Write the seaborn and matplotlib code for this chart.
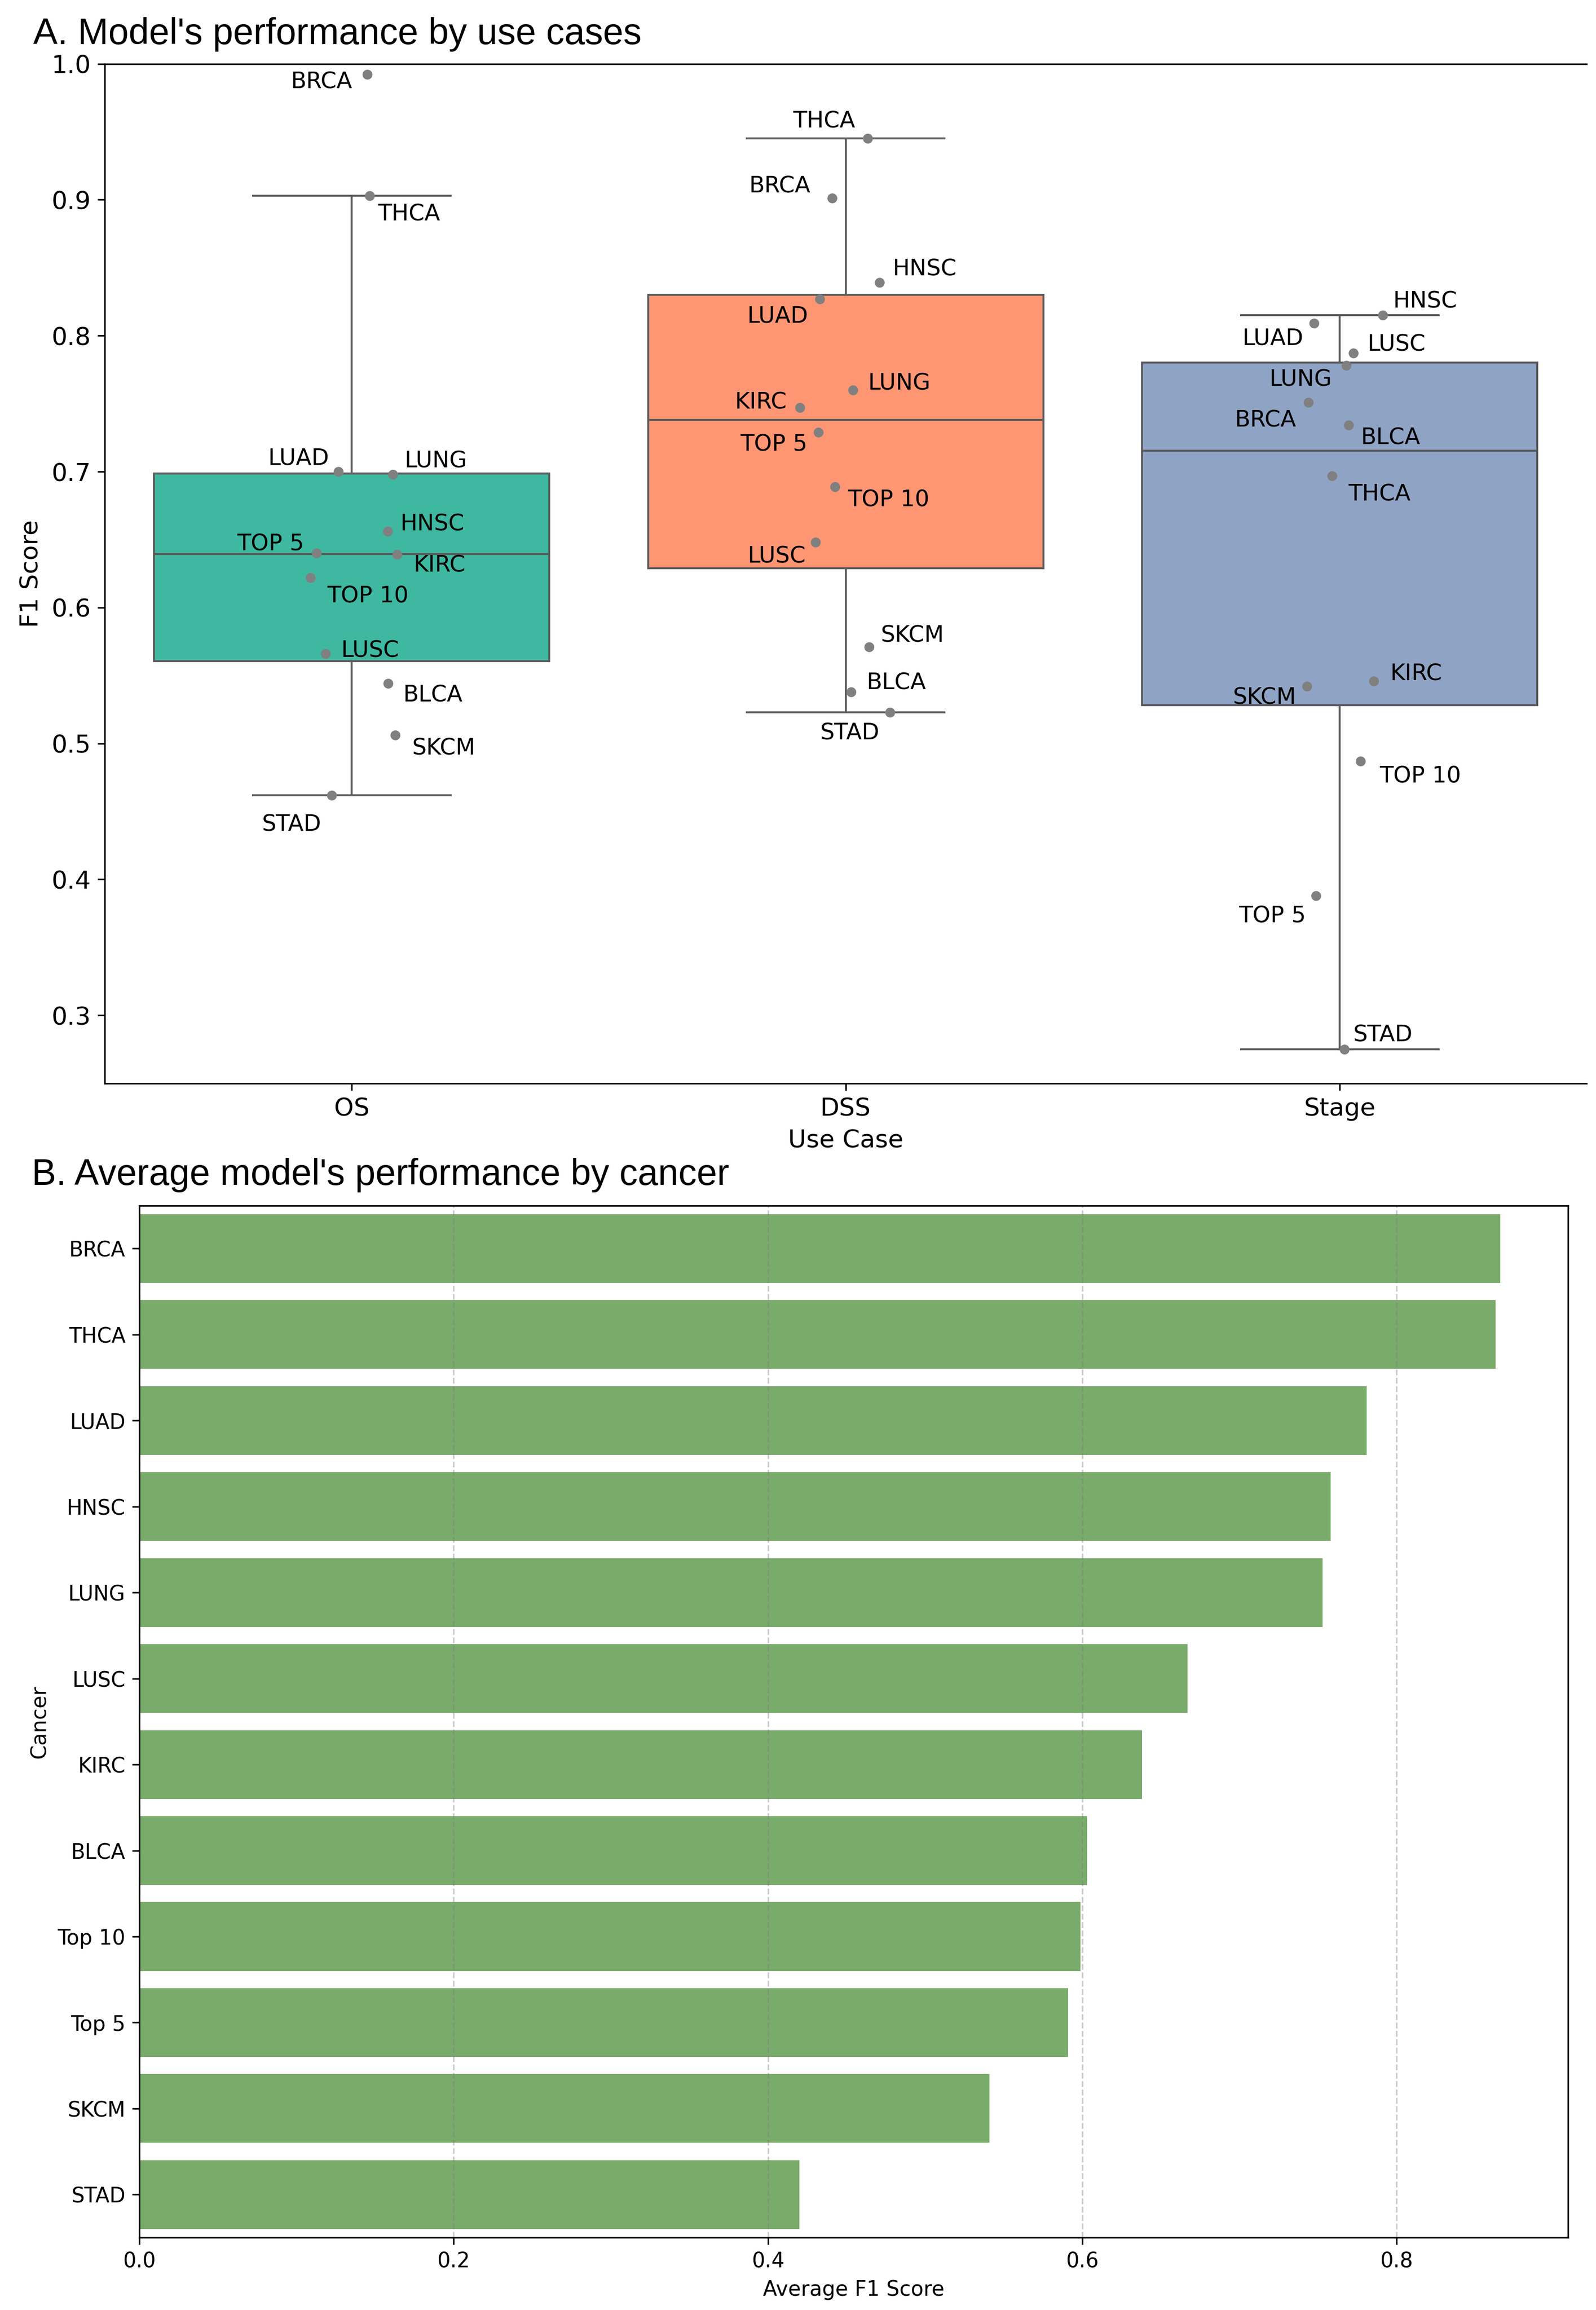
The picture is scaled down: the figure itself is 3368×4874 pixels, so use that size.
"""
Model performance figure: F1 by use case (box + strip) and average F1 by cancer (bars)
"""
import matplotlib
matplotlib.use("Agg")
import matplotlib.pyplot as plt
import seaborn as sns
import numpy as np
import pandas as pd

# ---- data ----
use_cases = ["OS", "DSS", "Stage"]
cancers = ["BRCA", "THCA", "LUAD", "HNSC", "LUNG", "LUSC",
           "KIRC", "BLCA", "TOP 10", "TOP 5", "SKCM", "STAD"]
os_f1 = [0.992, 0.903, 0.700, 0.656, 0.698, 0.566,
         0.639, 0.544, 0.622, 0.640, 0.506, 0.462]
dss_f1 = [0.901, 0.945, 0.827, 0.839, 0.760, 0.648,
          0.747, 0.538, 0.689, 0.729, 0.571, 0.523]
stage_f1 = [0.751, 0.697, 0.809, 0.815, 0.778, 0.787,
            0.546, 0.734, 0.487, 0.388, 0.542, 0.275]

bar_cancers = ["BRCA", "THCA", "LUAD", "HNSC", "LUNG", "LUSC",
               "KIRC", "BLCA", "Top 10", "Top 5", "SKCM", "STAD"]
avg_f1 = [0.866, 0.863, 0.781, 0.758, 0.753, 0.667,
          0.638, 0.603, 0.599, 0.591, 0.541, 0.420]

# ---- styling ----
box_colors = ["#3EB8A0", "#FF9673", "#8FA4C5"]
bar_color = "#79AB6A"
line_color = "#5a5a5a"

# label offsets (points) relative to each dot: (dx, dy to baseline)
label_offsets = {
    "OS": {"BRCA": (-7.7, -6.8), "THCA": (4.0, -12.5), "LUAD": (-4.8, 3.7),
           "LUNG": (6.0, 3.5), "HNSC": (6.2, 0.5), "TOP 5": (-6.5, 1.5),
           "KIRC": (8.2, -8.7), "TOP 10": (8.4, -12.6), "LUSC": (7.8, -1.5),
           "BLCA": (7.5, -9.0), "SKCM": (8.8, -9.8), "STAD": (-5.2, -18.0)},
    "DSS": {"THCA": (-6.2, 5.6), "BRCA": (-10.9, 3.0), "HNSC": (6.6, 3.7),
            "LUAD": (-5.8, -11.8), "LUNG": (7.7, 0.2), "KIRC": (-6.7, -0.5),
            "TOP 5": (-5.5, -9.4), "TOP 10": (6.5, -10.0), "LUSC": (-4.9, -10.3),
            "SKCM": (6.1, 2.7), "BLCA": (7.9, 1.4), "STAD": (-5.3, -13.7)},
    "Stage": {"HNSC": (5.2, 3.9), "LUAD": (-5.6, -10.8), "LUSC": (7.0, 1.2),
              "LUNG": (-7.4, -10.2), "BRCA": (-6.2, -12.2), "BLCA": (6.0, -9.4),
              "THCA": (8.1, -12.5), "KIRC": (8.1, 0.5), "SKCM": (-5.4, -8.9),
              "TOP 10": (9.6, -10.8), "TOP 5": (-5.1, -13.4), "STAD": (4.5, 4.1)},
}

W, H, DPI = 3368, 4874, 300
AX1 = [221 / W, 1 - 2286 / H, (3348 - 221) / W, (2286 - 135) / H]
AX2 = [294 / W, 1 - 4721 / H, (3309 - 294) / W, (4721 - 2544) / H]


def whisker_spans(vals):
    """Vertical whisker segments (below and above the box) of a Tukey boxplot."""
    v = np.asarray(vals)
    q1, q3 = np.percentile(v, [25, 75])
    iqr = q3 - q1
    lo = v[v >= q1 - 1.5 * iqr].min()
    hi = v[v <= q3 + 1.5 * iqr].max()
    return [(lo, q1), (q3, hi)]


def pick_jitter_seed(n_seeds=50000):
    """Pick a jitter seed so the hand-placed labels clash the least."""
    values = np.array([os_f1, dss_f1, stage_f1])
    unit_px = AX1[2] * W / 3          # px per category
    f1_px = AX1[3] * H / 0.75         # px per F1 unit
    pt = DPI / 72
    char_px, cap_px, dot_r = 31, 36, 11
    dx = np.array([[label_offsets[uc][c][0] for c in cancers] for uc in use_cases])
    dy = np.array([[label_offsets[uc][c][1] for c in cancers] for uc in use_cases])
    w = np.array([[len(c) * char_px for c in cancers]] * 3, dtype=float)
    col = np.arange(3)[:, None]
    py = values * f1_px
    y0 = (py + dy * pt).ravel()
    y1 = y0 + cap_px
    cx = np.repeat(np.arange(3) * unit_px, len(cancers))
    spans = np.array([whisker_spans(v) for v in values]) * f1_px  # (3, 2, 2)
    sp = np.repeat(spans, len(cancers), axis=0)
    on_whisker = np.zeros(y0.shape, dtype=bool)
    for k in range(2):
        on_whisker |= (y0 < sp[:, k, 1]) & (y1 > sp[:, k, 0])
    pyf = py.ravel()
    self_area = (w * cap_px).sum()

    best, best_score = 0, np.inf
    for seed in range(n_seeds):
        jit = np.random.RandomState(seed).uniform(-0.1, 0.1, size=(3, len(cancers)))
        px = (col + jit) * unit_px
        x0 = np.where(dx > 0, px + dx * pt, px + dx * pt - w).ravel()
        x1 = x0 + w.ravel()
        ox = np.minimum(x1[:, None], x1[None, :]) - np.maximum(x0[:, None], x0[None, :])
        oy = np.minimum(y1[:, None], y1[None, :]) - np.maximum(y0[:, None], y0[None, :])
        area = ((np.clip(ox, 0, None) * np.clip(oy, 0, None)).sum() - self_area) / 2
        pxf = px.ravel()
        hits = ((x0[:, None] - dot_r < pxf[None, :]) & (pxf[None, :] < x1[:, None] + dot_r)
                & (y0[:, None] - dot_r < pyf[None, :]) & (pyf[None, :] < y1[:, None] + dot_r)).sum()
        cross = ((x0 < cx) & (x1 > cx) & on_whisker).sum()
        mismatch = (np.abs(jit) * (np.sign(dx) != np.sign(jit))).sum()
        score = area / 100 + 5 * hits + 5 * cross + 20 * mismatch
        if score < best_score:
            best, best_score = seed, score
    return best


fig = plt.figure(figsize=((W + 0.5) / DPI, (H + 0.5) / DPI), dpi=DPI)

# ---------------- A. box + strip ----------------
df = pd.DataFrame({
    "Use Case": np.repeat(use_cases, len(cancers)),
    "Cancer": cancers * len(use_cases),
    "F1 Score": os_f1 + dss_f1 + stage_f1,
})

ax1 = fig.add_axes(AX1)
sns.boxplot(data=df, x="Use Case", y="F1 Score", hue="Use Case",
            palette=box_colors, saturation=1, showfliers=False,
            linecolor=line_color, linewidth=1.0, legend=False, ax=ax1)

n_before = len(ax1.collections)
np.random.seed(pick_jitter_seed())
sns.stripplot(data=df, x="Use Case", y="F1 Score", color="gray", size=5,
              jitter=True, zorder=3, ax=ax1)

# annotate each dot with its cancer name
for coll, uc in zip(ax1.collections[n_before:], use_cases):
    sub = df[df["Use Case"] == uc]
    for (px, py), name in zip(coll.get_offsets(), sub["Cancer"]):
        dx, dy = label_offsets[uc][name]
        ax1.annotate(name, (px, py), xytext=(dx, dy), textcoords="offset points",
                     ha="left" if dx > 0 else "right", va="baseline", fontsize=11.5)

ax1.set_ylim(0.25, 1.0)
ax1.set_xlim(-0.5, 2.5)
ax1.set_yticks(np.arange(0.3, 1.01, 0.1))
ax1.spines["right"].set_visible(False)
ax1.set_xlabel("Use Case", fontsize=12.6)
ax1.set_ylabel("F1 Score", fontsize=12.6)
ax1.tick_params(labelsize=12.6)

# ---------------- B. average bars ----------------
ax2 = fig.add_axes(AX2)
sns.barplot(x=avg_f1, y=bar_cancers, orient="h", color=bar_color,
            saturation=1, ax=ax2)
ax2.grid(axis="x", linestyle="--", color="gray", alpha=0.4)
ax2.set_xlabel("Average F1 Score", fontsize=10.5)
ax2.set_ylabel("Cancer", fontsize=10.5)
ax2.tick_params(labelsize=10.5)

# panel titles
fig.text(70 / W, 1 - 93 / H, "A. Model's performance by use cases",
         fontsize=18.5, family="Liberation Sans", va="baseline")
fig.text(67 / W, 1 - 2500 / H, "B. Average model's performance by cancer",
         fontsize=18.5, family="Liberation Sans", va="baseline")

fig.savefig("out.png", dpi=DPI)
